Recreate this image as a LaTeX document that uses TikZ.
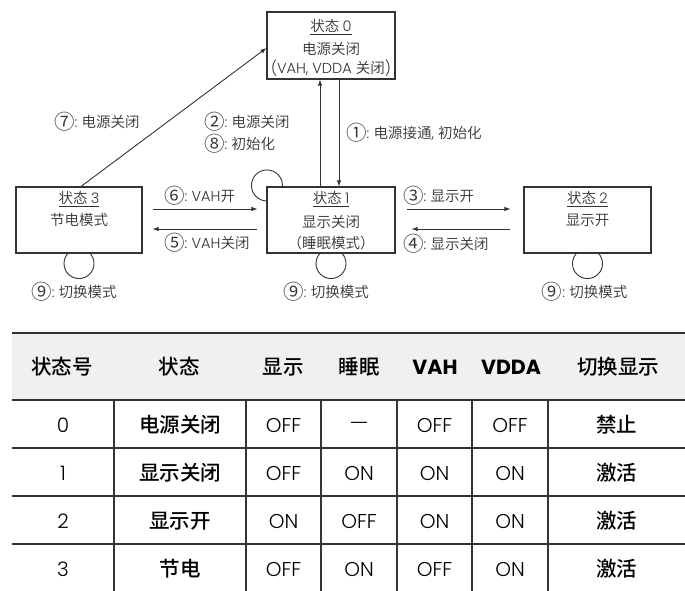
\documentclass[tikz,border=0pt]{standalone}
\usepackage{fontspec}
\setmainfont{Noto Sans CJK SC}
\newfontfamily\lat{Poppins}
\IfFontExistsTF{Poppins Light}{\newfontfamily\latl{Poppins Light}}{\newfontfamily\latl{Poppins}}
\IfFontExistsTF{Noto Sans CJK SC Medium}{\newfontfamily\cjkm{Noto Sans CJK SC Medium}}{\newcommand\cjkm{\bfseries}}
\IfFontExistsTF{Noto Sans CJK SC DemiLight}{\newfontfamily\cjkl{Noto Sans CJK SC DemiLight}}{\newcommand\cjkl{\relax}}
\usetikzlibrary{calc,arrows.meta,backgrounds}
\definecolor{ink}{HTML}{333333}
\definecolor{hdr}{HTML}{F0F0F0}
\tikzset{
 box/.style={draw=ink, line width=1.1pt, fill=white, inner sep=0pt, minimum height=66pt},
 dtext/.style={text=ink, font=\fontsize{14.5}{17}\selectfont\cjkl, inner sep=0pt},
 lbl/.style={dtext, anchor=west},
 conn/.style={draw=ink, line width=0.9pt},
 arr/.style={conn, -{Latex[length=6pt,width=4.5pt]}},
 loopc/.style={draw=ink, line width=0.9pt},
 tline/.style={draw=ink, line width=1.2pt},
 thead/.style={text=black, inner sep=0pt, font=\fontsize{20.5}{24}\selectfont\cjkm},
 tcn/.style={text=black, inner sep=0pt, font=\fontsize{20.5}{24}\selectfont\cjkm},
 tdat/.style={text=black, inner sep=0pt, font=\fontsize{20}{24}\selectfont\latl},
}
\newcommand\cnum[1]{\raisebox{-2.2pt}{\fontsize{20.5}{20}\selectfont #1}{\latl:} }
\newcommand\longdash{{\cjkl —}}
\begin{document}
\begin{tikzpicture}[x=1pt,y=-1pt]
\useasboundingbox (0,0) rectangle (685,591);
% state boxes
\node[box, minimum width=128pt, minimum height=67pt] (s0) at (331,45.5) {};
\node[box, minimum width=128pt] (s1) at (331,220) {};
\node[box, minimum width=126pt] (s3) at (79,220) {};
\node[box, minimum width=127pt] (s2) at (587.5,220) {};
% state texts
\node[dtext] (s0a) at (331,27) {\underline{状态 {\latl 0}}};
\node[dtext] (s0b) at (331,49) {电源关闭};
\node[dtext] (s0c) at (331,68) {{\latl (VAH, VDDA }关闭{\latl )}};
\node[dtext] (s1a) at (331,199) {\underline{状态 {\latl 1}}};
\node[dtext] (s1b) at (331,222) {显示关闭};
\node[dtext] (s1c) at (331,243) {（睡眠模式）};
\node[dtext] (s3a) at (79,199) {\underline{状态 {\latl 3}}};
\node[dtext] (s3b) at (79,220) {节电模式};
\node[dtext] (s2a) at (587.5,199) {\underline{状态 {\latl 2}}};
\node[dtext] (s2b) at (587.5,220) {显示开};
% connectors
\draw[arr] ([xshift=-11pt]s1.north) -- ([xshift=-11pt]s0.south);
\draw[arr] ([xshift=8pt]s0.south) -- ([xshift=8pt]s1.north);
\draw[arr] ([xshift=2pt]s3.north) -- ([yshift=-2.5pt]s0.west);
\draw[arr] ($(s3.east)+(10,-11)$) -- ($(s1.west)+(-9,-11)$);
\draw[arr] ($(s1.west)+(-9,9)$) -- ($(s3.east)+(10,9)$);
\draw[arr] ($(s1.east)+(11,-11)$) -- ($(s2.west)+(-13,-11)$);
\draw[arr] ($(s2.west)+(-13,9)$) -- ($(s1.east)+(16,9)$);
% loops
\begin{scope}[on background layer]
\draw[loopc] ($(s3.south)+(0,10)$) circle[radius=15];
\draw[loopc] ($(s1.south)+(0,10)$) circle[radius=15];
\draw[loopc] ($(s2.south)+(0,10)$) circle[radius=15];
\draw[loopc] ($(s1.north west)+(0.5,-1)$) circle[radius=15.5];
\end{scope}
% labels
\node[lbl] (l7) at (54,122) {\cnum{⑦}电源关闭};
\node[lbl] (l2) at (204,122) {\cnum{②}电源关闭};
\node[lbl] (l8) at (204,144) {\cnum{⑧}初始化};
\node[lbl] (l1) at (346,133) {\cnum{①}电源接通{\latl, }初始化};
\node[lbl] (l6) at (164,196) {\cnum{⑥}{\latl VAH}开};
\node[lbl] (l5) at (164,243) {\cnum{⑤}{\latl VAH}关闭};
\node[lbl] (l3) at (403,196) {\cnum{③}显示开};
\node[lbl] (l4) at (403,244) {\cnum{④}显示关闭};
\node[dtext] (l9a) at ($(s3.south)+(-5,38)$) {\cnum{⑨}切换模式};
\node[dtext] (l9b) at ($(s1.south)+(-5,38)$) {\cnum{⑨}切换模式};
\node[dtext] (l9c) at ($(s2.south)+(-3,38)$) {\cnum{⑨}切换模式};
% table
\fill[hdr] (12,333) rectangle (685,400);
\draw[tline] (12,333) -- (685,333);
\draw[tline] (12,400) -- (685,400);
\foreach \y in {448,496,544} \draw[tline] (12,\y) -- (685,\y);
\foreach \x in {114,246,321,397,472,548} \draw[tline] (\x,400) -- (\x,591);
\node[thead] (h0) at (62,367) {状态号};
\node[thead] (h1) at (179,367) {状态};
\node[thead] (h2) at (283,367) {显示};
\node[thead] (h3) at (359,367) {睡眠};
\node[thead] (h4) at (435,367) {\lat\bfseries VAH};
\node[thead] (h5) at (511,367) {\lat\bfseries VDDA};
\node[thead] (h6) at (618,367) {切换显示};
% rows
\foreach \n/\yy/\st/\a/\b/\c/\d/\sw in {
 0/425/电源关闭/OFF/\longdash/OFF/OFF/禁止,
 1/473/显示关闭/OFF/ON/ON/ON/激活,
 2/521/显示开/ON/OFF/ON/ON/激活,
 3/569/节电/OFF/ON/OFF/ON/激活}{
 \node[tdat] (r\n c0) at (63,\yy) {\n};
 \node[tcn] (r\n c1) at (180,\yy) {\st};
 \node[tdat] (r\n c2) at (283.5,\yy) {\a};
 \node[tdat] (r\n c3) at (359,\yy) {\b};
 \node[tdat] (r\n c4) at (434.5,\yy) {\c};
 \node[tdat] (r\n c5) at (510,\yy) {\d};
 \node[tcn] (r\n c6) at (616.5,\yy) {\sw};
}
\end{tikzpicture}
\end{document}
